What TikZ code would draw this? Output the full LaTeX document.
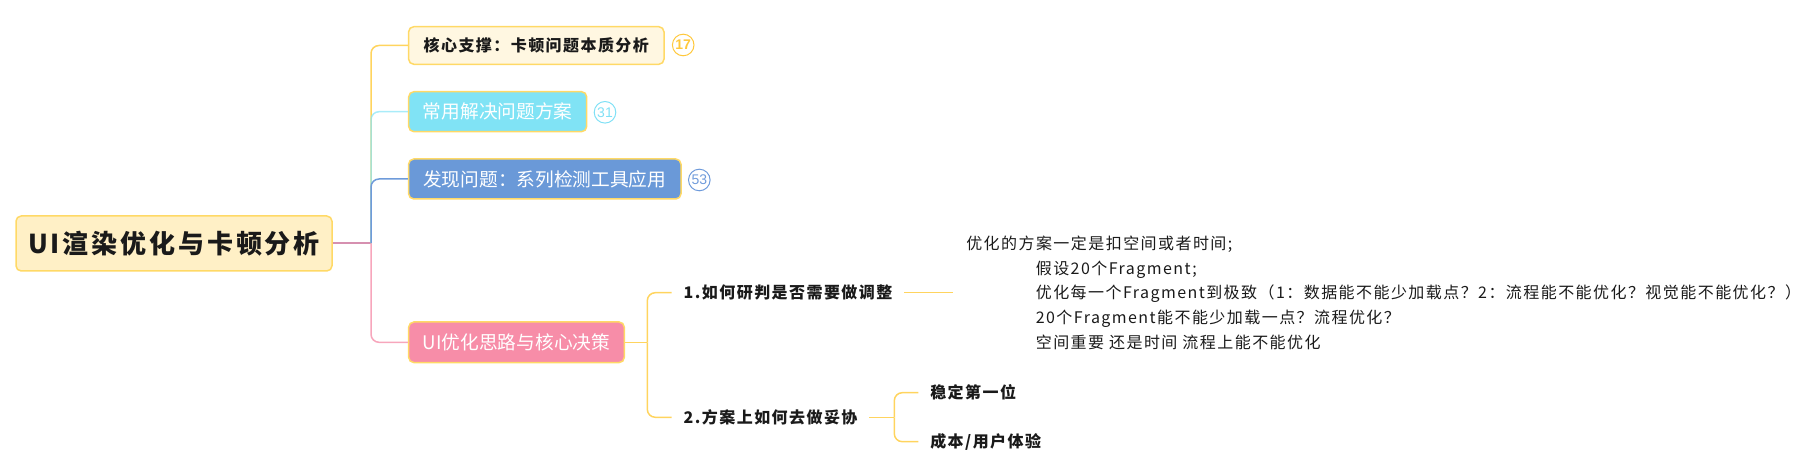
\documentclass[tikz,border=0pt]{standalone}
\usepackage{fontspec}
\newfontfamily\cjkfont{Noto Sans CJK SC}
\newfontfamily\kaifont{Noto Sans CJK SC}[LetterSpace=9]
\newfontfamily\rootfont{Noto Sans CJK SC}[LetterSpace=11]
\newfontfamily\numfont{Liberation Sans}
\definecolor{boxborder}{HTML}{FFD966}
\definecolor{rootfill}{HTML}{FFF0C6}
\definecolor{bonefill}{HTML}{FFF7E1}
\definecolor{btwofill}{HTML}{80E3F5}
\definecolor{bthreefill}{HTML}{6A99D8}
\definecolor{bfourfill}{HTML}{F78DA8}
\definecolor{lineyellow}{HTML}{FFD45E}
\definecolor{linecyan}{HTML}{8CE6F7}
\definecolor{lineblue}{HTML}{6E9BDA}
\definecolor{linepink}{HTML}{F7A6BC}
\definecolor{linemauve}{HTML}{D690B0}
\definecolor{badgeyellow}{HTML}{FFC83C}
\definecolor{badgecyan}{HTML}{80E0F5}
\definecolor{badgeblue}{HTML}{6F9BDB}
\definecolor{inktext}{HTML}{1A1A1A}
\tikzset{
  mapbox/.style={draw=boxborder, line width=0.75pt, rounded corners=2.6pt, inner sep=0pt, align=center},
  rootbox/.style={mapbox, fill=rootfill, text=inktext, font={\rootfont\bfseries\fontsize{13}{15}\selectfont}},
  kaibox/.style={mapbox, fill=bonefill, text=inktext, font={\kaifont\bfseries\fontsize{8}{9.5}\selectfont}},
  colbox/.style={mapbox, text=white, font={\cjkfont\fontsize{9.35}{11}\selectfont}},
  badge/.style={circle, draw, line width=0.5pt, minimum size=10.8pt, inner sep=0pt, font={\numfont\fontsize{7}{8}\selectfont}},
  subtext/.style={anchor=west, inner xsep=5.8pt, inner ysep=2pt, text=inktext, font={\kaifont\bfseries\fontsize{8}{9.5}\selectfont}},
  leaftext/.style={anchor=west, inner xsep=6.3pt, inner ysep=0pt, align=left, text=inktext, font={\kaifont\fontsize{8}{12.35}\selectfont}},
  conn/.style={line width=0.75pt, rounded corners=4pt},
}
\begin{document}
\begin{tikzpicture}[x=0.5pt,y=-0.5pt]
\useasboundingbox (0,0) rectangle (1804,474);
% nodes
\node[rootbox, minimum width=158pt, minimum height=27.5pt] (root) at (174,243.5) {UI渲染优化与卡顿分析};
\node[kaibox, minimum width=127.7pt, minimum height=18.8pt] (b1) at (536.3,45.5) {核心支撑：卡顿问题本质分析};
\node[colbox, fill=btwofill, minimum width=89pt, minimum height=20pt] (b2) at (497.7,111.7) {常用解决问题方案};
\node[colbox, fill=bthreefill, minimum width=136.2pt, minimum height=20pt] (b3) at (544.8,179) {发现问题：系列检测工具应用};
\node[colbox, fill=bfourfill, minimum width=107.8pt, minimum height=20.3pt] (b4) at (516.5,342.3) {UI优化思路与核心决策};
\node[badge, draw=badgeyellow, text=badgeyellow, font={\numfont\bfseries\fontsize{7}{8}\selectfont}] (n1) at (683.2,45) {17};
\node[badge, draw=badgecyan, text=badgecyan] (n2) at (605,112.3) {31};
\node[badge, draw=badgeblue, text=badgeblue] (n3) at (699.3,180) {53};
\node[subtext] (c1) at (671.7,292.7) {1.如何研判是否需要做调整};
\node[subtext] (c2) at (671.7,417.3) {2.方案上如何去做妥协};
\node[leaftext] (leaf) at (953.3,292.7) {优化的方案一定是扣空间或者时间;\\
\hspace*{34.75pt}假设20个Fragment;\\
\hspace*{34.75pt}优化每一个Fragment到极致（1：数据能不能少加载点？2：流程能不能优化？视觉能不能优化？）\\
\hspace*{34.75pt}20个Fragment能不能少加载一点？流程优化？\\
\hspace*{34.75pt}空间重要 还是时间 流程上能不能优化};
\node[subtext] (g1) at (918.3,392.7) {稳定第一位};
\node[subtext] (g2) at (918.3,441.7) {成本/用户体验};
% junctions
\coordinate (J) at (371,243.5);
\coordinate (K) at (647.3,342.3);
\coordinate (L) at (894.3,417.3);
% connectors
\draw[linemauve, line width=1pt] (root.east) -- (J);
\draw[conn, lineyellow] (J) |- (b1.west);
\draw[conn, linecyan, opacity=0.75] (J) |- (b2.west);
\draw[conn, lineblue] (J) |- (b3.west);
\draw[conn, linepink] (J) |- (b4.west);
\draw[conn, lineyellow] (b4.east) -- (K);
\draw[conn, lineyellow] (K) |- (c1.west);
\draw[conn, lineyellow] (K) |- (c2.west);
\draw[conn, lineyellow] (c1.east) -- (leaf.west);
\draw[conn, lineyellow] (c2.east) -- (L);
\draw[conn, lineyellow] (L) |- (g1.west);
\draw[conn, lineyellow] (L) |- (g2.west);
\end{tikzpicture}
\end{document}
